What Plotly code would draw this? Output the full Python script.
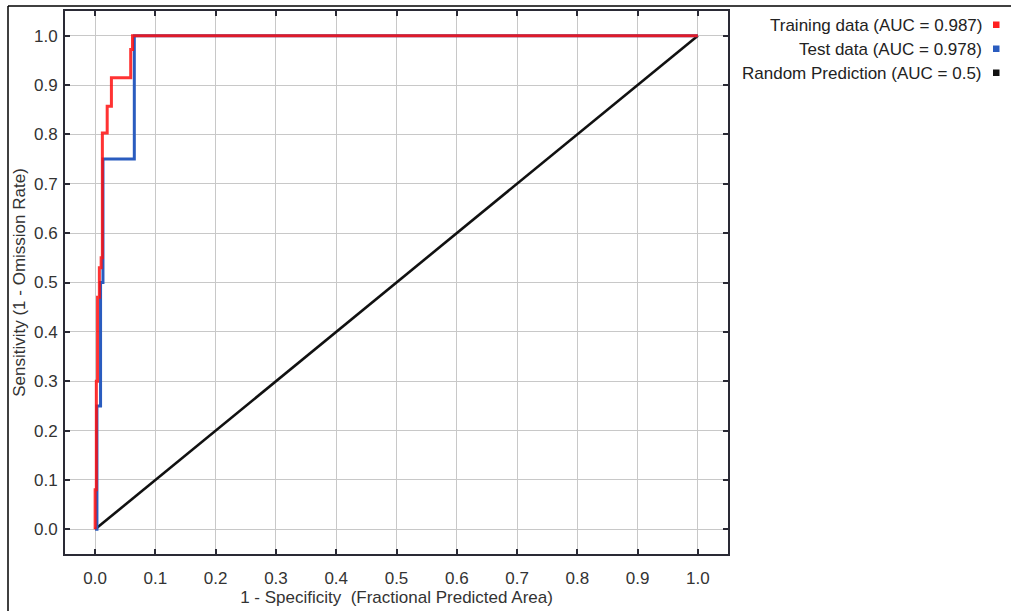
import plotly.graph_objects as go

# Training data ROC (red)
train_x = [0.0, 0.0, 0.002, 0.002, 0.004, 0.004, 0.007, 0.007, 0.010, 0.010, 0.012, 0.012,
           0.020, 0.020, 0.027, 0.027, 0.059, 0.059, 0.062, 0.062, 1.0]
train_y = [0.0, 0.08, 0.08, 0.30, 0.30, 0.47, 0.47, 0.53, 0.53, 0.55, 0.55, 0.803,
           0.803, 0.857, 0.857, 0.915, 0.915, 0.972, 0.972, 1.0, 1.0]

# Test data ROC (blue)
test_x = [0.0, 0.003, 0.003, 0.009, 0.009, 0.013, 0.013, 0.065, 0.065, 1.0]
test_y = [0.0, 0.0, 0.25, 0.25, 0.50, 0.50, 0.75, 0.75, 1.0, 1.0]

# Random prediction
rand_x = [0.0, 1.0]
rand_y = [0.0, 1.0]

ticks = [0.0, 0.1, 0.2, 0.3, 0.4, 0.5, 0.6, 0.7, 0.8, 0.9, 1.0]
tick_labels = ["0.0", "0.1", "0.2", "0.3", "0.4", "0.5", "0.6", "0.7", "0.8", "0.9", "1.0"]

legend_labels = ["Training data (AUC = 0.987)", "Test data (AUC = 0.978)", "Random Prediction (AUC = 0.5)"]
legend_colors = ["#ff2020", "#2a5cbf", "#111111"]

FONT = "Liberation Sans, Arial, sans-serif"
FS = 17

fig = go.Figure()
fig.add_trace(go.Scatter(x=rand_x, y=rand_y, mode="lines",
                         line=dict(color="#111111", width=2.6), showlegend=False))
fig.add_trace(go.Scatter(x=test_x, y=test_y, mode="lines",
                         line=dict(color="#2a5cbf", width=3), showlegend=False))
fig.add_trace(go.Scatter(x=train_x, y=train_y, mode="lines", opacity=0.85,
                         line=dict(color="#ff1010", width=3), showlegend=False))

W, H = 1011, 611
L, R, T, B = 65, 283, 11, 57
pw, ph = W - L - R, H - T - B


def px2x(px):
    return (px - L) / pw


def py2y(py):
    return (H - B - py) / ph


annotations = []
shapes = []
rows_y = [25, 49, 73]
for lab, col, ry in zip(legend_labels, legend_colors, rows_y):
    annotations.append(dict(x=px2x(984), y=py2y(ry), xref="paper", yref="paper",
                            text=lab, showarrow=False, xanchor="right", yanchor="middle",
                            font=dict(family=FONT, size=FS, color="#222222")))
    shapes.append(dict(type="rect", xref="paper", yref="paper",
                       x0=px2x(993), x1=px2x(999.5), y0=py2y(ry + 3), y1=py2y(ry - 3.5),
                       fillcolor=col, line=dict(width=0)))

# outer frame (top and left edges)
shapes.append(dict(type="line", xref="paper", yref="paper",
                   x0=px2x(8), x1=px2x(1011), y0=py2y(6), y1=py2y(6),
                   line=dict(color="#000000", width=1.5)))
shapes.append(dict(type="line", xref="paper", yref="paper",
                   x0=px2x(8), x1=px2x(8), y0=py2y(6), y1=py2y(611),
                   line=dict(color="#000000", width=1.5)))

axis_common = dict(
    range=[-0.05, 1.05], tickvals=ticks, ticktext=tick_labels,
    showgrid=True, gridcolor="#c8c8c8", gridwidth=1, zeroline=False,
    showline=True, linecolor="#2a2a35", linewidth=2, mirror="ticks",
    ticks="inside", ticklen=5, tickwidth=2, tickcolor="#2a2a35",
    tickfont=dict(family=FONT, size=FS, color="#333333"),
)

fig.update_layout(
    width=W, height=H,
    margin=dict(l=L, r=R, t=T, b=B, autoexpand=False),
    paper_bgcolor="white", plot_bgcolor="white",
    xaxis=dict(**axis_common,
               title=dict(text="1 - Specificity  (Fractional Predicted Area)",
                          font=dict(family=FONT, size=FS, color="#333333"), standoff=2),
               ticklabelstandoff=8),
    yaxis=dict(**axis_common,
               title=dict(text="Sensitivity (1 - Omission Rate)",
                          font=dict(family=FONT, size=FS, color="#333333"), standoff=4),
               ticklabelstandoff=2),
    annotations=annotations, shapes=shapes,
)

fig.write_html("out.html", config={"displayModeBar": False},
               post_script="document.body.style.margin='0';document.body.style.overflow='hidden';")
